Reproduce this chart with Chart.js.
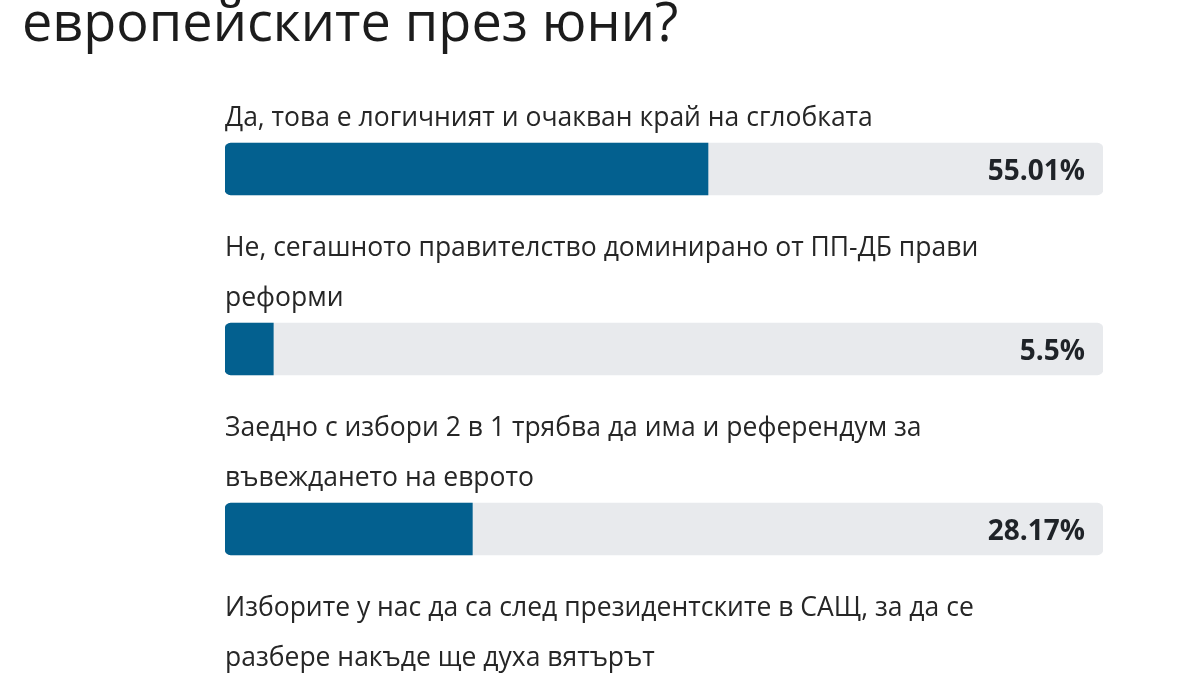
<!DOCTYPE html>
<html lang="bg">
<head>
<meta charset="utf-8">
<script src="https://cdn.jsdelivr.net/npm/chart.js@4/dist/chart.umd.min.js"></script>
<style>
    html, body { margin: 0; padding: 0; background: #ffffff; overflow: hidden; width: 1200px; height: 675px; }
    #title {
        position: absolute; left: 22px; top: -17px; margin: 0;
        font-family: "Open Sans", sans-serif; font-weight: 400; font-size: 54px;
        color: #1c1c1c; white-space: nowrap;
    }
    #wrap { position: absolute; left: 0; top: 0; width: 1200px; height: 820px; }
</style>
</head>
<body>
<h1 id="title">европейските през юни?</h1>
<div id="wrap"><canvas id="poll"></canvas></div>
<script>
// poll answers (line breaks as in the picture)
const answers = [
    ["Да, това е логичният и очакван край на сглобката"],
    ["Не, сегашното правителство доминирано от ПП-ДБ прави", "реформи"],
    ["Заедно с избори 2 в 1 трябва да има и референдум за", "въвеждането на еврото"],
    ["Изборите у нас да са след президентските в САЩ, за да се", "разбере накъде ще духа вятърът"]
];
const percents = [55.01, 5.5, 28.17, 11.32];
const track = [100, 100, 100, 100];

const barColor = '#03608f';
const trackColor = '#e8eaed';

const pollText = {
    id: 'pollText',
    afterDatasetsDraw(chart) {
        const ctx = chart.ctx;
        const yScale = chart.scales.y;
        const xScale = chart.scales.x;
        ctx.save();
        percents.forEach((val, i) => {
            const cy = yScale.getPixelForValue(i);
            const top = cy - 26;
            // question text above the bar
            ctx.font = '26.5px "Open Sans", sans-serif';
            ctx.fillStyle = '#262626';
            ctx.textAlign = 'left';
            ctx.textBaseline = 'alphabetic';
            const lines = answers[i];
            lines.forEach((line, k) => {
                const base = top - 17 - (lines.length - 1 - k) * 50;
                ctx.fillText(line, xScale.left, base);
            });
            // percentage inside the track
            ctx.font = 'bold 28px "Open Sans", sans-serif';
            ctx.fillStyle = '#1f2328';
            ctx.textAlign = 'right';
            ctx.fillText(val + '%', xScale.right - 18, cy + 11);
        });
        ctx.restore();
    }
};

new Chart(document.getElementById('poll'), {
    type: 'bar',
    data: {
        labels: answers.map(a => a.join(' ')),
        datasets: [
            {
                label: 'Гласове',
                data: percents,
                backgroundColor: barColor,
                borderRadius: { topLeft: 6, bottomLeft: 6, topRight: 0, bottomRight: 0 },
                borderSkipped: false,
                barThickness: 52,
                grouped: false,
                order: 0
            },
            {
                label: 'Общо',
                data: track,
                backgroundColor: trackColor,
                borderRadius: 6,
                borderSkipped: false,
                barThickness: 52,
                grouped: false,
                order: 1
            }
        ]
    },
    options: {
        indexAxis: 'y',
        responsive: true,
        maintainAspectRatio: false,
        animation: false,
        layout: { padding: { left: 225, right: 97, top: 79, bottom: 21 } },
        scales: {
            x: { display: false, min: 0, max: 100 },
            y: { display: false, offset: true }
        },
        plugins: {
            legend: { display: false },
            tooltip: { enabled: false }
        }
    },
    plugins: [pollText]
});
</script>
</body>
</html>
